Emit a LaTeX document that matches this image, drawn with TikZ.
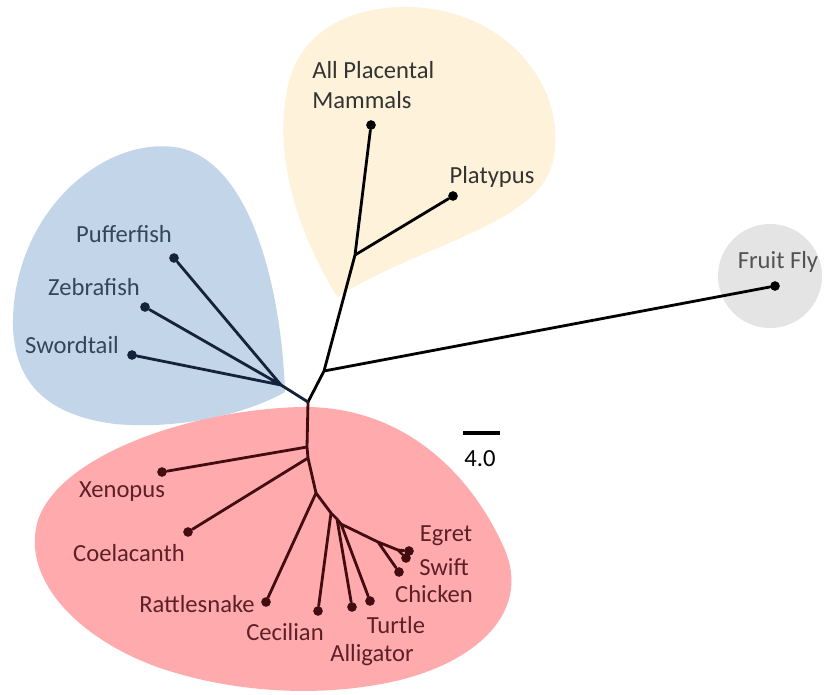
\documentclass[tikz,border=0pt]{standalone}
\usepackage{fontspec}
\setmainfont{Carlito}
\definecolor{fishbg}{HTML}{C3D5E9}
\definecolor{mammalbg}{HTML}{FEF3DA}
\definecolor{reptbg}{HTML}{FFABAE}
\definecolor{flybg}{HTML}{E4E4E4}
\definecolor{fishink}{HTML}{13243A}
\definecolor{reptink}{HTML}{420C10}
\definecolor{fishtxt}{HTML}{34465A}
\definecolor{repttxt}{HTML}{5C2026}

\begin{document}
\begin{tikzpicture}[x=0.02cm,y=-0.02cm,
  branch/.style={line width=1.6pt,line cap=round,line join=round},
  tip/.style={circle,fill,inner sep=0pt,minimum size=5.5pt},
  lbl/.style={font=\fontsize{14}{17}\selectfont,inner sep=0pt}]
\useasboundingbox (0,0) rectangle (831,694);

% clade backgrounds
\fill[mammalbg] (337,297) .. controls (300,235) and (272,160) .. (288,85)
  .. controls (303,20) and (370,2) .. (425,8)
  .. controls (515,18) and (570,95) .. (552,165)
  .. controls (535,225) and (420,245) .. (337,297) -- cycle;
\fill[fishbg] (285,392) .. controls (282,300) and (255,165) .. (180,148)
  .. controls (115,135) and (30,195) .. (15,295)
  .. controls (3,380) and (45,415) .. (115,424)
  .. controls (185,430) and (250,412) .. (285,392) -- cycle;
\fill[reptbg] (300,407) .. controls (400,405) and (470,470) .. (505,550)
  .. controls (530,610) and (480,660) .. (400,680)
  .. controls (330,697) and (240,695) .. (160,668)
  .. controls (80,640) and (20,580) .. (38,520)
  .. controls (60,455) and (190,410) .. (300,407) -- cycle;
\fill[flybg] (770,276) circle[radius=52];

% junctions
\coordinate (root) at (308,402);
\coordinate (fishj) at (281,385);
\coordinate (upj) at (324,371);
\coordinate (mamj) at (355,255);
\coordinate (xenj) at (307,447);
\coordinate (coej) at (308,458);
\coordinate (snkj) at (316,493);
\coordinate (cecj) at (331,513);
\coordinate (allj) at (337,519);
\coordinate (turj) at (341,524);
\coordinate (chkj) at (378,542);
\coordinate (egrj) at (398,550);

% tips
\node[tip] (placental) at (371,125) {};
\node[tip] (platypus) at (453,196) {};
\node[tip] (fly) at (775,286) {};
\node[tip,fishink] (puffer) at (174,258) {};
\node[tip,fishink] (zebra) at (145,307) {};
\node[tip,fishink] (sword) at (132,355) {};
\node[tip,reptink] (xenopus) at (162,472) {};
\node[tip,reptink] (coela) at (188,532) {};
\node[tip,reptink] (snake) at (266,602) {};
\node[tip,reptink] (cecil) at (318,611) {};
\node[tip,reptink] (alli) at (352,607) {};
\node[tip,reptink] (turtle) at (370,601) {};
\node[tip,reptink] (chicken) at (399,572) {};
\node[tip,reptink] (swift) at (406,558) {};
\node[tip,reptink] (egret) at (409,551) {};

% branches
\draw[branch] (root) -- (upj) -- (mamj) -- (placental) (mamj) -- (platypus) (upj) -- (fly);
\draw[branch,fishink] (root) -- (fishj) -- (puffer) (fishj) -- (zebra) (fishj) -- (sword);
\draw[branch,reptink] (root) -- (xenj) -- (coej) -- (snkj) -- (cecj) -- (allj) -- (turj) -- (chkj) -- (egrj) -- (egret)
  (xenj) -- (xenopus) (coej) -- (coela) (snkj) -- (snake) (cecj) -- (cecil)
  (allj) -- (alli) (turj) -- (turtle) (chkj) -- (chicken) (egrj) -- (swift);

% scale bar
\coordinate (barl) at (463,433);
\coordinate (barr) at (500,433);
\draw[line width=2.2pt] (barl) -- (barr);
\node[lbl] (scale) at (480,459) {4.0};

% labels
\node[lbl,align=left,anchor=west,text=black!80] (placentallbl) at (312,85) {All Placental\\Mammals};
\node[lbl,text=black!80] (platypuslbl) at (492,177) {Platypus};
\node[lbl,text=black!68] (flylbl) at (778,262) {Fruit Fly};
\node[lbl,text=fishtxt] (pufferlbl) at (124,234) {Pufferfish};
\node[lbl,text=fishtxt] (zebralbl) at (94,287) {Zebrafish};
\node[lbl,text=fishtxt] (swordlbl) at (72,345) {Swordtail};
\node[lbl,text=repttxt] (xenopuslbl) at (122,492) {Xenopus};
\node[lbl,text=repttxt] (coelalbl) at (129,553) {Coelacanth};
\node[lbl,text=repttxt] (snakelbl) at (197,604) {Rattlesnake};
\node[lbl,text=repttxt] (cecillbl) at (285,632) {Cecilian};
\node[lbl,text=repttxt] (turtlelbl) at (396,625) {Turtle};
\node[lbl,text=repttxt] (allilbl) at (372,655) {Alligator};
\node[lbl,text=repttxt] (egretlbl) at (446,536) {Egret};
\node[lbl,text=repttxt] (swiftlbl) at (444,567) {Swift};
\node[lbl,text=repttxt] (chickenlbl) at (434,594) {Chicken};

\end{tikzpicture}
\end{document}
